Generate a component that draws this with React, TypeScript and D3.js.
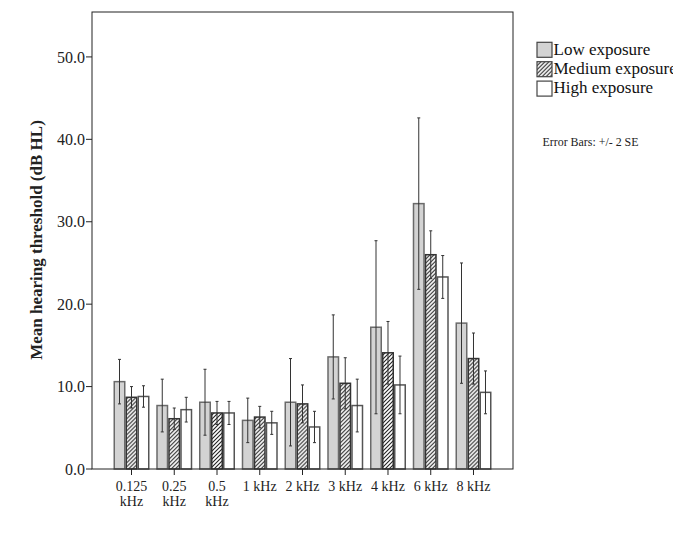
import React from "react";
import * as d3 from "d3";

// Frequency bands (two-line labels are split on "\n")
const frequencies = ["0.125\nkHz", "0.25\nkHz", "0.5\nkHz", "1 kHz", "2 kHz", "3 kHz", "4 kHz", "6 kHz", "8 kHz"];
const seriesNames = ["Low exposure", "Medium exposure", "High exposure"];

// Mean hearing thresholds (dB HL)
const lowMeans = [10.6, 7.7, 8.1, 5.9, 8.1, 13.6, 17.2, 32.2, 17.7];
const mediumMeans = [8.7, 6.1, 6.8, 6.3, 7.9, 10.4, 14.1, 26.0, 13.4];
const highMeans = [8.8, 7.2, 6.8, 5.6, 5.1, 7.7, 10.2, 23.3, 9.3];

// Error bar half-widths (2 SE)
const low2SE = [2.7, 3.2, 4.0, 2.7, 5.3, 5.1, 10.5, 10.4, 7.3];
const medium2SE = [1.3, 1.3, 1.4, 1.3, 2.3, 3.1, 3.8, 2.9, 3.1];
const high2SE = [1.3, 1.5, 1.4, 1.4, 1.9, 3.2, 3.5, 2.6, 2.6];

const yTicks = [0, 10, 20, 30, 40, 50];

const W = 673;
const H = 535;
const plot = { left: 92, right: 513, top: 12, bottom: 469 };
const FONT = "'Liberation Serif', 'Times New Roman', serif";

export default function App() {
  const means = [lowMeans, mediumMeans, highMeans];
  const errs = [low2SE, medium2SE, high2SE];

  const y = d3.scaleLinear().domain([0, 55.45]).range([plot.bottom, plot.top]);
  const x = d3
    .scaleBand<string>()
    .domain(frequencies)
    .range([plot.left, plot.right])
    .paddingInner(0.158)
    .paddingOuter(0.503);
  const xs = d3.scaleBand<string>().domain(seriesNames).range([0, x.bandwidth()]).padding(0);

  const fills = ["#d3d3d3", "url(#hatch)", "#ffffff"];
  const strokes = ["#6a6a6a", "#333333", "#555555"];

  return (
    <svg
      width={W}
      height={H}
      style={{ position: "absolute", left: 0, top: 0, background: "#fff", overflow: "hidden" }}
      fontFamily={FONT}
    >
      <defs>
        <pattern id="hatch" patternUnits="userSpaceOnUse" width={4} height={4}>
          <rect width={4} height={4} fill="#fff" />
          <path d="M-1,1 l2,-2 M0,4 l4,-4 M3,5 l2,-2" stroke="#222" strokeWidth={1.1} />
        </pattern>
      </defs>

      {/* bars */}
      {frequencies.map((f, i) => (
        <g key={f} transform={`translate(${x(f)},0)`}>
          {seriesNames.map((s, k) => {
            const v = means[k][i];
            return (
              <rect
                key={s}
                x={xs(s)! + 0.75}
                y={y(v)}
                width={xs.bandwidth() - 1.5}
                height={y(0) - y(v)}
                fill={fills[k]}
                stroke={strokes[k]}
                strokeWidth={1.5}
              />
            );
          })}
        </g>
      ))}

      {/* error bars */}
      {frequencies.map((f, i) => (
        <g key={`e-${f}`} transform={`translate(${x(f)},0)`}>
          {seriesNames.map((s, k) => {
            const cx = xs(s)! + xs.bandwidth() / 2;
            const lo = y(means[k][i] - errs[k][i]);
            const hi = y(means[k][i] + errs[k][i]);
            return (
              <g key={s} stroke="#333" strokeWidth={1}>
                <line x1={cx} x2={cx} y1={lo} y2={hi} />
                <line x1={cx - 1.5} x2={cx + 1.5} y1={hi} y2={hi} />
                <line x1={cx - 1.5} x2={cx + 1.5} y1={lo} y2={lo} />
              </g>
            );
          })}
        </g>
      ))}

      {/* frame */}
      <rect
        x={plot.left}
        y={plot.top}
        width={plot.right - plot.left}
        height={plot.bottom - plot.top}
        fill="none"
        stroke="#222"
        strokeWidth={1}
      />

      {/* y axis */}
      {yTicks.map((t) => (
        <g key={t}>
          <line x1={plot.left - 6} x2={plot.left} y1={y(t)} y2={y(t)} stroke="#222" />
          <text x={plot.left - 7} y={y(t)} dy="0.35em" textAnchor="end" fontSize={16} fill="#222">
            {d3.format(".1f")(t)}
          </text>
        </g>
      ))}
      <text
        transform={`translate(42,240) rotate(-90)`}
        textAnchor="middle"
        fontSize={17}
        fontWeight="bold"
        fill="#222"
      >
        Mean hearing threshold (dB HL)
      </text>

      {/* x axis */}
      {frequencies.map((f) => {
        const cx = x(f)! + x.bandwidth() / 2;
        const lines = f.split("\n");
        return (
          <g key={`t-${f}`}>
            <line x1={cx} x2={cx} y1={plot.bottom} y2={plot.bottom + 6} stroke="#222" />
            <text textAnchor="middle" fontSize={14} fill="#222">
              {lines.map((ln, j) => (
                <tspan key={j} x={cx} y={491 + j * 14.5}>
                  {ln}
                </tspan>
              ))}
            </text>
          </g>
        );
      })}

      {/* legend */}
      {seriesNames.map((s, k) => (
        <g key={`l-${s}`} transform={`translate(537,${42.3 + k * 19.4})`}>
          <rect x={0} y={0} width={15} height={15} fill={fills[k]} stroke="#444" strokeWidth={1.2} />
          <text x={16.5} y={12.3} fontSize={17} fill="#111">
            {s}
          </text>
        </g>
      ))}
      <text x={542.5} y={146} fontSize={11.5} fill="#222" textLength={96} lengthAdjust="spacingAndGlyphs">
        Error Bars: +/- 2 SE
      </text>
    </svg>
  );
}
